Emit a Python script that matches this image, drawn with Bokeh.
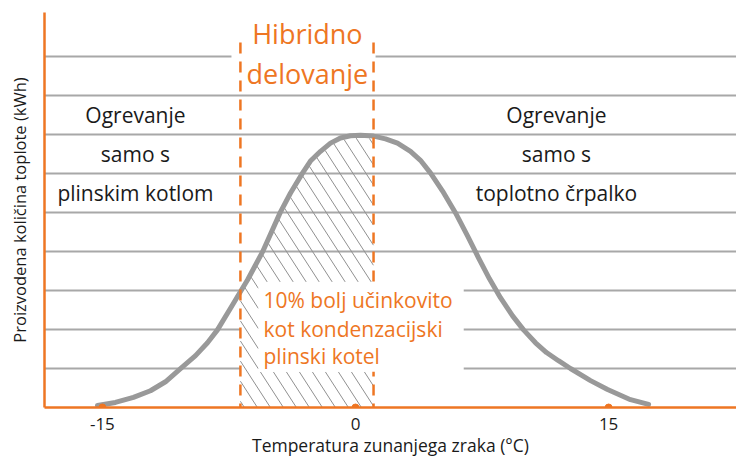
import numpy as np
from bokeh.plotting import figure
from bokeh.models import FixedTicker, Range1d, Label
from bokeh.embed import file_html
from bokeh.resources import INLINE

# ---- data ----
# outside temperature (°C) and produced heat (grid units, kWh)
temps = [-15.29, -14.23, -13.16, -12.15, -11.26, -10.37, -9.48, -8.77, -8.18, -7.29,
         -6.82, -6.40, -5.51, -4.45, -3.85, -3.14, -2.67, -2.07, -1.48, -0.89,
         -0.30, 0.30, 1.07, 1.78, 2.49, 3.26, 3.85, 4.45, 5.16, 5.93,
         6.64, 7.29, 7.94, 8.60, 9.31, 9.96, 10.67, 11.32, 12.03, 12.74,
         13.93, 14.94, 16.30, 17.37]
heat = [0.05, 0.13, 0.26, 0.43, 0.66, 1.00, 1.33, 1.66, 1.99, 2.63,
        2.97, 3.27, 3.99, 5.01, 5.50, 6.01, 6.32, 6.57, 6.78, 6.91,
        6.97, 6.98, 6.96, 6.89, 6.78, 6.57, 6.34, 6.01, 5.55, 4.99,
        4.40, 3.84, 3.30, 2.81, 2.35, 1.99, 1.66, 1.41, 1.20, 1.00,
        0.69, 0.46, 0.20, 0.08]
x_ticks = [-15, 0, 15]
x_tick_labels = {-15: "-15", 0: "0", 15: "15"}
grid_levels = [1, 2, 3, 4, 5, 6, 7, 8, 9]
hybrid_from = -6.82   # left dashed boundary (°C)
hybrid_to = 1.07      # right dashed boundary (°C)

ORANGE = "#EE7623"
GRID = "#a8a8a8"
CURVE = "#999999"
HATCH = "#909090"
FONT = "Open Sans"
TXT = "#1a1a1a"

X0, X1, Y0, Y1 = -18.43, 22.58, 0.0, 10.13
W, H = 736, 459
ML, MT = 44, 12
FRAME_W = W - ML
FRAME_H = 396
p = figure(width=W, height=H, output_backend="svg", toolbar_location=None,
           x_range=Range1d(X0, X1), y_range=Range1d(Y0, Y1),
           min_border_left=ML, min_border_right=0, min_border_top=MT, min_border_bottom=0)
p.outline_line_color = None
p.background_fill_color = "white"
p.border_fill_color = "white"

# grid
p.xgrid.visible = False
p.ygrid.ticker = FixedTicker(ticks=grid_levels)
p.ygrid.grid_line_color = GRID
p.ygrid.grid_line_width = 2

# axes
p.yaxis.ticker = FixedTicker(ticks=[])
p.yaxis.axis_line_color = ORANGE
p.yaxis.axis_line_width = 2.5
p.yaxis.major_tick_line_color = None
p.yaxis.minor_tick_line_color = None
p.yaxis.axis_label = "Proizvodena količina toplote (kWh)"
p.yaxis.axis_label_text_font = FONT
p.yaxis.axis_label_text_font_size = "16.5px"
p.yaxis.axis_label_text_font_style = "normal"
p.yaxis.axis_label_text_color = TXT
p.yaxis.axis_label_standoff = 14

p.xaxis.ticker = FixedTicker(ticks=x_ticks)
p.xaxis.major_label_overrides = x_tick_labels
p.xaxis.axis_line_color = ORANGE
p.xaxis.axis_line_width = 2.5
p.xaxis.major_tick_line_color = None
p.xaxis.minor_tick_line_color = None
p.xaxis.major_label_text_font = FONT
p.xaxis.major_label_text_font_size = "17px"
p.xaxis.major_label_text_color = TXT
p.xaxis.major_label_standoff = 4
p.xaxis.axis_label = "Temperatura zunanjega zraka (°C)"
p.xaxis.axis_label_text_font = FONT
p.xaxis.axis_label_text_font_size = "17.5px"
p.xaxis.axis_label_text_font_style = "normal"
p.xaxis.axis_label_text_color = TXT
p.xaxis.axis_label_standoff = 0

sx = FRAME_W / (X1 - X0)   # px per °C
sy = FRAME_H / (Y1 - Y0)   # px per unit

# white masks hiding grid lines behind the titles
p.quad(left=[-7.35], right=[1.19], bottom=[8.8], top=[9.25], fill_color="white", line_color=None)
p.quad(left=[hybrid_from], right=[6.40], bottom=[0.85], top=[3.2], fill_color="white", line_color=None)

# hatched hybrid area under the curve (left free where the text sits)
txt_l, txt_b, txt_t = -5.75, 0.92, 3.22
step_px, slope = 13.0, 1.55
t_arr = np.array(temps)
h_arr = np.array(heat)
hxs, hys = [], []
c = hybrid_from * sx + 4
c_max = hybrid_to * sx + h_arr.max() * sy / slope
while c < c_max:
    X = np.arange(hybrid_from * sx, hybrid_to * sx, 0.25)
    Yp = slope * (c - X)
    T = X / sx
    Hh = Yp / sy
    top = np.interp(T, t_arr, h_arr) - 0.06
    ins = (Hh >= 0) & (Hh <= top) & ~((T >= txt_l) & (Hh >= txt_b) & (Hh <= txt_t))
    idx = np.flatnonzero(ins)
    if idx.size:
        breaks = np.flatnonzero(np.diff(idx) > 1)
        starts = np.r_[idx[0], idx[breaks + 1]]
        ends = np.r_[idx[breaks], idx[-1]]
        for s, e in zip(starts, ends):
            if e > s:
                hxs.append([T[s], T[e]])
                hys.append([Hh[s], Hh[e]])
    c += step_px
p.multi_line(hxs, hys, line_color=HATCH, line_width=1)

# heat curve
p.line(temps, heat, line_color=CURVE, line_width=5, line_cap="round", line_join="round")

# dashed hybrid boundaries (drawn from the top down)
for xb in (hybrid_from, hybrid_to):
    p.line([xb, xb], [9.36, 0], line_color=ORANGE, line_width=2.5, line_dash="11 8")

# white box behind the efficiency text (covers the right dashed line there)
p.quad(left=[txt_l], right=[6.40], bottom=[txt_b], top=[txt_t], fill_color="white", line_color=None)

# tick dots
p.scatter(x_ticks, [0] * len(x_ticks), size=7, color=ORANGE)

def lab(x, y, text, color=TXT, size="21px", align="center"):
    p.add_layout(Label(x=x, y=y, text=text, text_font=FONT, text_font_size=size,
                       text_color=color, text_align=align, text_baseline="middle"))

lab(-13.04, 7.5, "Ogrevanje")
lab(-13.04, 6.5, "samo s")
lab(-13.04, 5.5, "plinskim kotlom")
lab(11.91, 7.5, "Ogrevanje")
lab(11.91, 6.5, "samo s")
lab(11.91, 5.5, "toplotno črpalko")
lab(-2.85, 9.59, "Hibridno", ORANGE, "27px")
lab(-2.85, 8.57, "delovanje", ORANGE, "27px")
lab(-5.45, 2.76, "10% bolj učinkovito", ORANGE, "21px", "left")
lab(-5.45, 2.02, "kot kondenzacijski", ORANGE, "21px", "left")
lab(-5.45, 1.33, "plinski kotel", ORANGE, "21px", "left")

open("out.html", "w").write(file_html(p, INLINE))
